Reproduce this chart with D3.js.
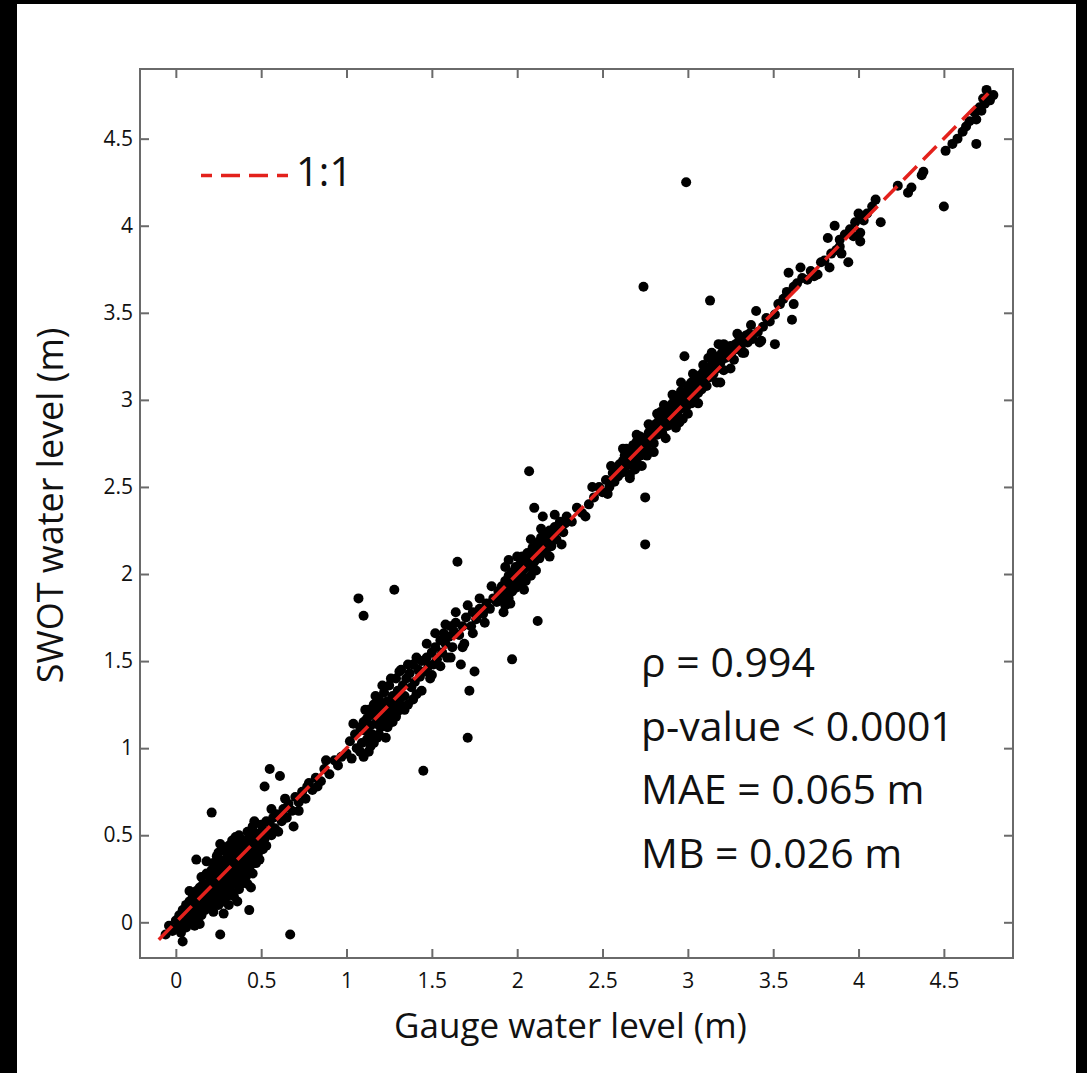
<!DOCTYPE html>
<html>
<head>
<meta charset="utf-8">
<script src="https://cdn.jsdelivr.net/npm/d3@7"></script>
<style>
  html, body { margin: 0; padding: 0; background: #000; }
  svg { display: block; }
</style>
</head>
<body>
<div id="chart"></div>
<script>
// Tick values for both axes
const xTicks = [0, 0.5, 1, 1.5, 2, 2.5, 3, 3.5, 4, 4.5];
const yTicks = [0, 0.5, 1, 1.5, 2, 2.5, 3, 3.5, 4, 4.5];

// 1:1 reference line (start / end, in metres)
const oneToOne = [-0.1, 4.76];

// Statistics printed in the lower right
const statLines = ['ρ = 0.994', 'p-value < 0.0001', 'MAE = 0.065 m', 'MB = 0.026 m'];

// [gauge water level, SWOT water level] in metres
const points = [
  // near zero
  [-0.06, -0.07], [-0.04, -0.02], [-0.02, -0.05], [0.0, 0.01], [0.01, -0.03], [0.02, 0.04], [0.03, -0.06],
  [0.04, -0.11], [0.04, 0.07], [0.05, 0.0], [0.06, -0.03], [0.06, 0.1], [0.07, 0.04], [0.08, 0.12],
  [0.09, 0.0], [0.09, 0.07], [0.11, -0.02], [0.14, -0.01], [0.08, 0.18],
  // 0.1 - 0.2
  [0.10, 0.15], [0.10, 0.03], [0.11, 0.09], [0.12, 0.18], [0.12, 0.36], [0.12, 0.05], [0.13, 0.12],
  [0.13, 0.0], [0.14, 0.20], [0.14, 0.08], [0.15, 0.15], [0.15, 0.26], [0.15, 0.04], [0.16, 0.11],
  [0.16, 0.22], [0.17, 0.07], [0.17, 0.17], [0.18, 0.28], [0.18, 0.13], [0.19, 0.20], [0.19, 0.09],
  [0.20, 0.25], [0.20, 0.16], [0.21, 0.63], [0.21, 0.30], [0.20, 0.09], [0.18, 0.35],
  // 0.2 - 0.3
  [0.21, 0.12], [0.22, 0.22], [0.22, 0.34], [0.22, 0.06], [0.23, 0.18], [0.23, 0.28], [0.24, 0.14],
  [0.24, 0.38], [0.24, 0.24], [0.25, 0.20], [0.25, 0.31], [0.25, 0.10], [0.26, -0.07], [0.26, 0.27],
  [0.26, 0.16], [0.27, 0.35], [0.27, 0.22], [0.27, 0.42], [0.28, 0.19], [0.28, 0.29], [0.28, 0.12],
  [0.29, 0.25], [0.29, 0.36], [0.29, 0.33], [0.30, 0.21], [0.30, 0.30], [0.30, 0.15], [0.30, 0.40],
  [0.23, 0.10], [0.26, 0.45], [0.28, 0.05], [0.22, 0.27], [0.24, 0.31], [0.27, 0.14], [0.29, 0.17],
  [0.25, 0.40],
  // 0.3 - 0.4
  [0.31, 0.26], [0.31, 0.34], [0.31, 0.44], [0.32, 0.18], [0.32, 0.29], [0.32, 0.38], [0.33, 0.23],
  [0.33, 0.32], [0.33, 0.47], [0.34, 0.27], [0.34, 0.36], [0.34, 0.15], [0.35, 0.30], [0.35, 0.41],
  [0.35, 0.22], [0.36, 0.34], [0.36, 0.45], [0.36, 0.26], [0.37, 0.31], [0.37, 0.38], [0.37, 0.19],
  [0.38, 0.42], [0.38, 0.28], [0.38, 0.35], [0.39, 0.33], [0.39, 0.47], [0.39, 0.24], [0.40, 0.38],
  [0.40, 0.30], [0.40, 0.44], [0.33, 0.40], [0.35, 0.49], [0.36, 0.12], [0.38, 0.22], [0.39, 0.40],
  [0.34, 0.43], [0.31, 0.10], [0.37, 0.50],
  // 0.4 - 0.5
  [0.41, 0.35], [0.41, 0.47], [0.41, 0.26], [0.42, 0.40], [0.42, 0.31], [0.42, 0.52], [0.43, 0.07],
  [0.43, 0.37], [0.43, 0.44], [0.44, 0.33], [0.44, 0.48], [0.45, 0.41], [0.45, 0.28], [0.45, 0.55],
  [0.46, 0.38], [0.46, 0.46], [0.47, 0.42], [0.47, 0.34], [0.47, 0.51], [0.48, 0.45], [0.48, 0.39],
  [0.49, 0.50], [0.49, 0.36], [0.50, 0.47], [0.50, 0.56], [0.44, 0.20], [0.42, 0.22], [0.46, 0.58],
  // 0.5 - 1.0
  [0.51, 0.42], [0.51, 0.53], [0.52, 0.78], [0.52, 0.48], [0.53, 0.58], [0.53, 0.44], [0.54, 0.52],
  [0.55, 0.88], [0.55, 0.57], [0.56, 0.50], [0.57, 0.60], [0.58, 0.54], [0.59, 0.62], [0.61, 0.84],
  [0.62, 0.58], [0.63, 0.65], [0.65, 0.60], [0.66, 0.68], [0.68, 0.64], [0.69, 0.55], [0.70, 0.72],
  [0.72, 0.69], [0.74, 0.75], [0.76, 0.71], [0.78, 0.80], [0.80, 0.76], [0.82, 0.83], [0.85, 0.81],
  [0.87, 0.88], [0.90, 0.85], [0.93, 0.93], [0.97, 0.95], [0.67, -0.07], [0.56, 0.65], [0.60, 0.52],
  [0.64, 0.71], [0.72, 0.64], [0.77, 0.78], [0.83, 0.78], [0.88, 0.93], [0.95, 0.90],
  // 1.0 - 1.5
  [1.00, 0.97], [1.02, 1.04], [1.03, 0.94], [1.05, 1.08], [1.06, 1.00], [1.07, 1.86], [1.08, 1.12],
  [1.09, 1.03], [1.10, 1.76], [1.10, 0.95], [1.11, 1.10], [1.12, 1.17], [1.12, 1.05], [1.13, 1.22],
  [1.14, 1.13], [1.15, 1.08], [1.15, 1.19], [1.16, 1.25], [1.17, 1.14], [1.18, 1.21], [1.18, 1.06],
  [1.19, 1.28], [1.20, 1.17], [1.20, 1.12], [1.21, 1.24], [1.22, 1.19], [1.22, 1.32], [1.23, 1.15],
  [1.24, 1.27], [1.25, 1.22], [1.25, 1.36], [1.26, 1.18], [1.27, 1.30], [1.28, 1.91], [1.28, 1.25],
  [1.29, 1.40], [1.30, 1.33], [1.30, 1.21], [1.31, 1.28], [1.32, 1.45], [1.33, 1.36], [1.34, 1.30],
  [1.35, 1.40], [1.36, 1.25], [1.37, 1.43], [1.38, 1.35], [1.39, 1.48], [1.40, 1.38], [1.41, 1.31],
  [1.42, 1.45], [1.43, 1.41], [1.44, 1.50], [1.45, 0.87], [1.46, 1.44], [1.47, 1.52], [1.48, 1.47],
  [1.49, 1.40], [1.27, 1.15], [1.33, 1.24], [1.04, 1.14], [1.08, 0.98], [1.11, 1.22], [1.14, 1.01],
  [1.17, 1.30], [1.19, 1.08], [1.21, 1.36], [1.24, 1.12], [1.26, 1.40], [1.29, 1.18], [1.31, 1.44],
  [1.34, 1.22], [1.36, 1.48], [1.39, 1.28], [1.41, 1.52], [1.44, 1.33], [1.47, 1.60], [1.50, 1.42],
  [1.13, 0.98], [1.23, 1.06], [1.10, 1.15], [1.16, 1.03],
  // 1.5 - 1.9
  [1.50, 1.55], [1.51, 1.48], [1.52, 1.58], [1.53, 1.51], [1.55, 1.62], [1.56, 1.55], [1.57, 1.66],
  [1.58, 1.60], [1.59, 1.52], [1.60, 1.64], [1.61, 1.70], [1.62, 1.58], [1.63, 1.67], [1.64, 1.72],
  [1.65, 2.07], [1.66, 1.65], [1.67, 1.48], [1.68, 1.70], [1.69, 1.60], [1.70, 1.75], [1.71, 1.06],
  [1.72, 1.33], [1.73, 1.70], [1.74, 1.78], [1.75, 1.44], [1.76, 1.74], [1.78, 1.80], [1.80, 1.77],
  [1.82, 1.83], [1.84, 1.80], [1.86, 1.86], [1.88, 1.84], [1.89, 1.90], [1.52, 1.66], [1.55, 1.47],
  [1.58, 1.71], [1.61, 1.52], [1.64, 1.78], [1.68, 1.58], [1.71, 1.82], [1.74, 1.66], [1.78, 1.86],
  [1.81, 1.72], [1.85, 1.93],
  // 1.9 - 2.3
  [1.90, 1.85], [1.91, 1.93], [1.92, 1.88], [1.93, 1.96], [1.93, 1.82], [1.94, 1.91], [1.95, 1.99],
  [1.95, 1.86], [1.96, 1.94], [1.97, 1.51], [1.97, 2.01], [1.97, 1.90], [1.98, 1.97], [1.99, 1.92],
  [1.99, 2.04], [2.00, 1.98], [2.01, 2.02], [2.01, 1.94], [2.02, 2.06], [2.03, 1.99], [2.03, 2.10],
  [2.04, 2.03], [2.05, 1.96], [2.05, 2.08], [2.06, 2.12], [2.07, 2.59], [2.07, 2.04], [2.08, 2.10],
  [2.08, 1.99], [2.09, 2.15], [2.10, 2.07], [2.10, 2.38], [2.11, 2.13], [2.12, 1.73], [2.12, 2.18],
  [2.13, 2.09], [2.13, 2.15], [2.14, 2.21], [2.15, 2.33], [2.15, 2.12], [2.16, 2.18], [2.17, 2.14],
  [2.17, 2.22], [2.18, 2.19], [2.19, 2.25], [2.20, 2.16], [2.21, 2.22], [2.22, 2.27], [2.23, 2.20],
  [2.24, 2.25], [2.25, 2.30], [2.27, 2.24], [2.28, 2.29], [2.29, 2.33], [1.92, 1.78], [1.95, 2.08],
  [1.93, 2.04], [1.96, 1.83], [2.00, 2.10], [2.04, 1.91], [2.08, 2.20], [2.11, 2.02], [2.14, 2.26],
  [2.19, 2.10], [2.22, 2.34], [2.26, 2.17],
  // 2.3 - 2.6
  [2.32, 2.30], [2.35, 2.38], [2.38, 2.35], [2.42, 2.40], [2.45, 2.44], [2.48, 2.50], [2.50, 2.47],
  [2.52, 2.54], [2.54, 2.50], [2.56, 2.58], [2.57, 2.53], [2.58, 2.60], [2.59, 2.56], [2.60, 2.63],
  [2.40, 2.33], [2.44, 2.50], [2.53, 2.46], [2.55, 2.62],
  // 2.6 - 3.1
  [2.61, 2.58], [2.62, 2.65], [2.62, 2.60], [2.63, 2.68], [2.64, 2.62], [2.65, 2.66], [2.65, 2.71],
  [2.66, 2.63], [2.67, 2.69], [2.68, 2.65], [2.68, 2.74], [2.69, 2.70], [2.70, 2.66], [2.70, 2.76],
  [2.71, 2.72], [2.72, 2.68], [2.72, 2.79], [2.74, 3.65], [2.73, 2.74], [2.74, 2.70], [2.75, 2.44],
  [2.75, 2.17], [2.75, 2.78], [2.76, 2.73], [2.77, 2.81], [2.78, 2.76], [2.78, 2.84], [2.79, 2.79],
  [2.80, 2.75], [2.80, 2.83], [2.81, 2.86], [2.82, 2.80], [2.83, 2.88], [2.83, 2.82], [2.84, 2.85],
  [2.85, 2.90], [2.85, 2.81], [2.86, 2.87], [2.87, 2.93], [2.88, 2.85], [2.88, 2.90], [2.89, 2.96],
  [2.90, 2.88], [2.90, 2.93], [2.91, 2.98], [2.92, 2.90], [2.92, 2.95], [2.93, 3.00], [2.94, 2.92],
  [2.94, 2.97], [2.95, 3.02], [2.96, 2.95], [2.96, 3.05], [2.97, 2.99], [2.99, 4.25], [2.98, 3.25],
  [2.98, 3.03], [2.99, 2.96], [3.00, 3.01], [3.00, 3.08], [3.01, 3.04], [3.02, 2.98], [3.02, 3.10],
  [3.03, 3.06], [3.04, 3.02], [3.05, 3.12], [3.05, 3.08], [3.06, 3.04], [3.07, 3.14], [3.08, 3.10],
  [3.08, 3.06], [3.09, 3.16], [3.10, 3.12], [2.66, 2.57], [2.71, 2.62], [2.76, 2.68], [2.64, 2.72],
  [2.86, 2.97], [2.97, 2.89], [2.62, 2.72], [2.66, 2.55], [2.70, 2.80], [2.73, 2.62], [2.77, 2.86],
  [2.80, 2.70], [2.84, 2.93], [2.87, 2.78], [2.91, 3.03], [2.93, 2.84], [2.96, 3.10], [3.00, 2.92],
  [3.03, 3.15], [3.06, 2.98], [3.09, 3.20], [2.69, 2.60], [2.82, 2.92], [2.95, 2.87],
  // 3.1 - 3.5
  [3.11, 3.08], [3.12, 3.17], [3.12, 3.24], [3.13, 3.57], [3.13, 3.13], [3.14, 3.20], [3.15, 3.15],
  [3.16, 3.22], [3.17, 3.18], [3.18, 3.32], [3.18, 3.25], [3.19, 3.21], [3.20, 3.27], [3.21, 3.17],
  [3.22, 3.24], [3.23, 3.29], [3.24, 3.26], [3.25, 3.31], [3.26, 3.28], [3.27, 3.23], [3.28, 3.32],
  [3.29, 3.29], [3.30, 3.34], [3.31, 3.30], [3.32, 3.27], [3.33, 3.35], [3.34, 3.37], [3.35, 3.33],
  [3.36, 3.38], [3.38, 3.35], [3.40, 3.51], [3.41, 3.39], [3.43, 3.34], [3.44, 3.42], [3.46, 3.47],
  [3.48, 3.45], [3.19, 3.10], [3.14, 3.27], [3.17, 3.10], [3.21, 3.32], [3.25, 3.18], [3.29, 3.38],
  [3.33, 3.27], [3.37, 3.43], [3.42, 3.33],
  // 3.5 - 4.15
  [3.51, 3.32], [3.51, 3.49], [3.53, 3.55], [3.54, 3.55], [3.56, 3.58], [3.58, 3.62], [3.59, 3.73],
  [3.61, 3.46], [3.62, 3.55], [3.62, 3.65], [3.64, 3.67], [3.66, 3.76], [3.67, 3.70], [3.70, 3.69],
  [3.72, 3.74], [3.74, 3.71], [3.76, 3.72], [3.78, 3.79], [3.80, 3.80], [3.82, 3.93], [3.83, 3.76],
  [3.84, 3.84], [3.86, 4.00], [3.87, 3.86], [3.89, 3.88], [3.89, 3.92], [3.90, 3.84], [3.92, 3.95],
  [3.94, 3.79], [3.95, 3.98], [3.97, 3.94], [3.98, 4.02], [4.00, 4.07], [4.01, 3.96], [4.01, 3.91],
  [4.01, 4.05], [4.03, 4.03], [4.05, 4.07], [4.08, 4.11], [4.10, 4.15], [4.13, 4.02],
  // top end
  [4.23, 4.23], [4.29, 4.19], [4.31, 4.22], [4.37, 4.29], [4.38, 4.31], [4.50, 4.11], [4.51, 4.43],
  [4.55, 4.47], [4.58, 4.50], [4.61, 4.54], [4.63, 4.57], [4.65, 4.60], [4.68, 4.65], [4.69, 4.61],
  [4.69, 4.47], [4.71, 4.68], [4.72, 4.66], [4.74, 4.70], [4.75, 4.78], [4.77, 4.72], [4.79, 4.75],
  [4.73, 4.73], [4.76, 4.74]
];

const width = 1087;
const height = 1073;
const plot = { left: 140, top: 69, right: 1013, bottom: 958 };
const axisColor = '#6a6a6a';
const textColor = '#111';
const fontFamily = '"Open Sans", "Noto Sans", sans-serif';

const svg = d3
  .select('#chart')
  .append('svg')
  .attr('width', width)
  .attr('height', height);

// Black frame around a white page
svg.append('rect').attr('width', width).attr('height', height).attr('fill', '#000');
svg
  .append('rect')
  .attr('x', 17)
  .attr('y', 4)
  .attr('width', 1059)
  .attr('height', height - 4)
  .attr('fill', '#fff');

const x = d3.scaleLinear().domain([-0.21, 4.905]).range([plot.left, plot.right]);
const y = d3.scaleLinear().domain([-0.205, 4.9]).range([plot.bottom, plot.top]);

// Axes with inward ticks on all four sides
const styleAxis = (g) => {
  g.select('.domain').remove();
  g.selectAll('.tick line').attr('stroke', axisColor).attr('stroke-width', 2);
  g.selectAll('.tick text')
    .attr('fill', textColor)
    .attr('font-family', fontFamily)
    .attr('font-size', 21);
};

svg
  .append('g')
  .attr('transform', `translate(0,${plot.bottom})`)
  .call(d3.axisBottom(x).tickValues(xTicks).tickSize(-9).tickPadding(15).tickFormat(String))
  .call(styleAxis);

svg
  .append('g')
  .attr('transform', `translate(${plot.left},0)`)
  .call(d3.axisLeft(y).tickValues(yTicks).tickSize(-9).tickPadding(7).tickFormat(String))
  .call(styleAxis);

svg
  .append('g')
  .attr('transform', `translate(0,${plot.top})`)
  .call(d3.axisTop(x).tickValues(xTicks).tickSize(-9).tickFormat(''))
  .call(styleAxis);

svg
  .append('g')
  .attr('transform', `translate(${plot.right},0)`)
  .call(d3.axisRight(y).tickValues(yTicks).tickSize(-9).tickFormat(''))
  .call(styleAxis);

// Plot frame
svg
  .append('rect')
  .attr('x', plot.left)
  .attr('y', plot.top)
  .attr('width', plot.right - plot.left)
  .attr('height', plot.bottom - plot.top)
  .attr('fill', 'none')
  .attr('stroke', axisColor)
  .attr('stroke-width', 2);

// Scatter points
svg
  .append('g')
  .selectAll('circle')
  .data(points)
  .join('circle')
  .attr('cx', (d) => x(d[0]))
  .attr('cy', (d) => y(d[1]))
  .attr('r', 5)
  .attr('fill', '#000');

// 1:1 line on top of the points
const line = d3
  .line()
  .x((d) => x(d))
  .y((d) => y(d));

svg
  .append('path')
  .attr('d', line(oneToOne))
  .attr('fill', 'none')
  .attr('stroke', '#e3211c')
  .attr('stroke-width', 3.5)
  .attr('stroke-dasharray', '19 9');

// Legend
svg
  .append('line')
  .attr('x1', 201)
  .attr('x2', 288)
  .attr('y1', 175.5)
  .attr('y2', 175.5)
  .attr('stroke', '#e3211c')
  .attr('stroke-width', 3.5)
  .attr('stroke-dasharray', '19 9')
  .attr('stroke-dashoffset', 8);

svg
  .append('text')
  .attr('x', 296)
  .attr('y', 186)
  .attr('font-family', fontFamily)
  .attr('font-size', 40)
  .attr('fill', textColor)
  .text('1:1');

// Statistics block
svg
  .append('g')
  .selectAll('text')
  .data(statLines)
  .join('text')
  .attr('x', 641)
  .attr('y', (d, i) => 677 + i * 63.5)
  .attr('font-family', fontFamily)
  .attr('font-size', 41)
  .attr('fill', textColor)
  .text((d) => d);

// Axis titles
svg
  .append('text')
  .attr('x', (plot.left + plot.right) / 2 - 6)
  .attr('y', 1038)
  .attr('text-anchor', 'middle')
  .attr('font-family', fontFamily)
  .attr('font-size', 35)
  .attr('fill', textColor)
  .text('Gauge water level (m)');

svg
  .append('text')
  .attr('transform', `translate(63,${(plot.top + plot.bottom) / 2 - 8}) rotate(-90)`)
  .attr('text-anchor', 'middle')
  .attr('font-family', fontFamily)
  .attr('font-size', 36)
  .attr('fill', textColor)
  .text('SWOT water level (m)');
</script>
</body>
</html>
